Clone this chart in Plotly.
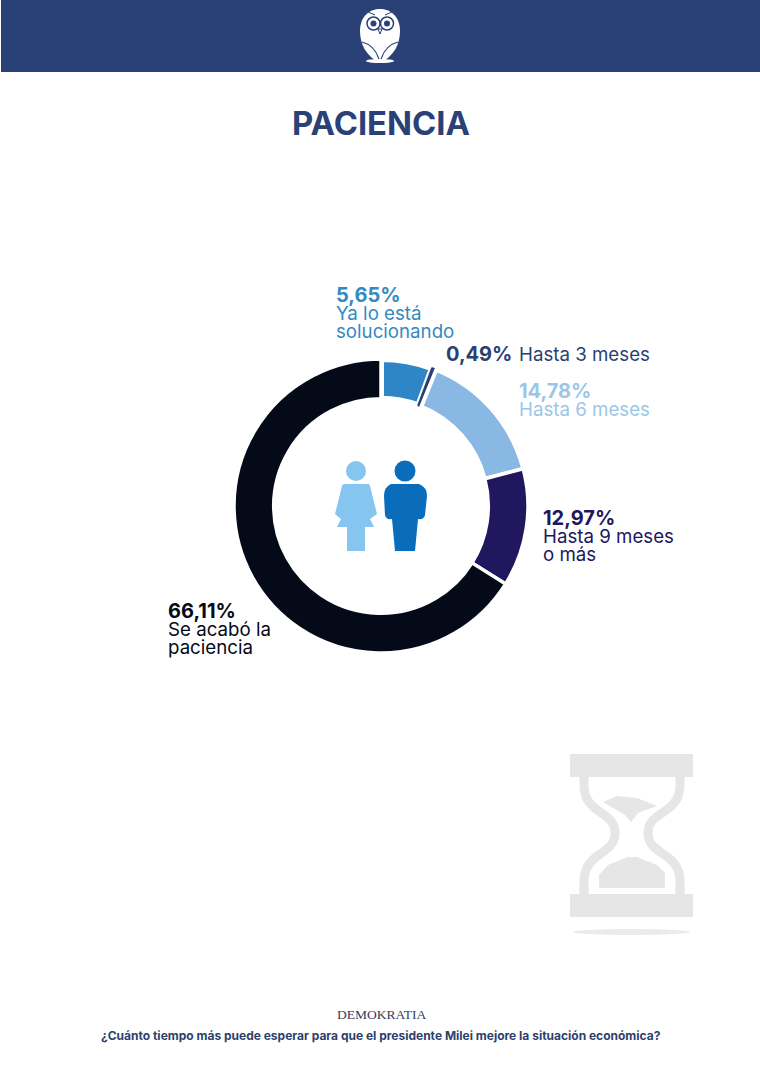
import plotly.graph_objects as go

categories = ["Ya lo está solucionando", "Hasta 3 meses", "Hasta 6 meses", "Hasta 9 meses o más", "Se acabó la paciencia"]
values = [5.65, 0.49, 14.78, 12.97, 66.11]
colors = ["#2E86C6", "#2C3F73", "#8AB8E4", "#21175F", "#050A18"]
text_colors = ["#348ABF", "#2C3F73", "#9CC6E8", "#21175F", "#050A18"]
slice_stroke_colors = ["white", "#2C3F73", "white", "white", "white"]
slice_stroke_widths = [6, 2, 4, 3.5, 3.5]
title = "PACIENCIA"
question = "¿Cuánto tiempo más puede esperar para que el presidente Milei mejore la situación económica?"
brand = "DEMOKRATIA"

W, H = 760, 1074
NAVY = "#2A4178"
GREY = "#E6E6E6"
FONT = "Inter"
BOLD = 20
REG = 18.7

cx, cy, R = 381, 506, 147

def pct(v):
    return f"{v:.2f}".replace(".", ",") + "%"

fig = go.Figure()
fig.add_trace(go.Pie(
    labels=categories, values=values, hole=0.73, sort=False, direction="clockwise", rotation=0,
    marker=dict(colors=colors, line=dict(color=slice_stroke_colors, width=slice_stroke_widths)),
    textinfo="none", hoverinfo="label+percent", showlegend=False,
    domain=dict(x=[(cx - R) / W, (cx + R) / W], y=[1 - (cy + R) / H, 1 - (cy - R) / H]),
))

def text(x, y, s, size, color, bold=False, anchor="left", font=FONT):
    fig.add_annotation(x=x, y=y, xref="x", yref="y", text=f"<b>{s}</b>" if bold else s, showarrow=False,
                       xanchor=anchor, yanchor="middle", align=anchor, xshift=-2 if anchor == "left" else 0,
                       font=dict(family=font, size=size, color=color))

# labels
text(336, 295, pct(values[0]), BOLD, text_colors[0], True)
text(336, 313, "Ya lo está", REG, text_colors[0])
text(336, 331, "solucionando", REG, text_colors[0])
text(446, 354, pct(values[1]), BOLD, text_colors[1], True)
text(519, 354, categories[1], REG, text_colors[1])
text(519, 391, pct(values[2]), BOLD, text_colors[2], True)
text(519, 409, categories[2], REG, text_colors[2])
text(543, 518, pct(values[3]), BOLD, text_colors[3], True)
text(543, 536, "Hasta 9 meses", REG, text_colors[3])
text(543, 554, "o más", REG, text_colors[3])
text(168, 611, pct(values[4]), BOLD, text_colors[4], True)
text(168, 629, "Se acabó la", REG, text_colors[4])
text(168, 647, "paciencia", REG, text_colors[4])

text(381, 123, title, 32.8, NAVY, True, "center")
text(381, 1014, brand, 13.5, "#33405F", False, "center", "Liberation Serif")
text(381, 1035, question, 12, "#2C3F6E", True, "center")

def path(d, fill=None, line=None, lw=0):
    fig.add_shape(type="path", path=d, xref="x", yref="y", layer="below",
                  fillcolor=fill or "rgba(0,0,0,0)",
                  line=dict(color=line or "rgba(0,0,0,0)", width=lw))

def ell(x, y, rx, ry, fill, line=None, lw=0):
    fig.add_shape(type="circle", x0=x - rx, x1=x + rx, y0=y - ry, y1=y + ry, xref="x", yref="y",
                  layer="below", fillcolor=fill, line=dict(color=line or "rgba(0,0,0,0)", width=lw))

def rect(x0, y0, x1, y1, fill):
    fig.add_shape(type="rect", x0=x0, x1=x1, y0=y0, y1=y1, xref="x", yref="y", layer="below",
                  fillcolor=fill, line=dict(width=0))

# header + owl
rect(1, 0, 760, 72, NAVY)
path("M360,31 C360,16 370,9 380,9 C390,9 400,16 400,31 C400,45 393,55 385,60 L375,60 C367,55 360,45 360,31 Z", "white")
ell(380, 61, 14, 2, "white")
for ex in (373.5, 387):
    ell(ex, 23.5, 6.5, 6.5, "white", NAVY, 1.5)
    ell(ex, 23.5, 3, 3, NAVY)
path("M378,29 L382,29 L380,34 Z", "white", NAVY, 1)
path("M362,42 C370,44 376,50 379,59", None, NAVY, 1.2)
path("M398,42 C390,44 384,50 381,59", None, NAVY, 1.2)
path("M368,12 L375,15 M392,12 L385,15", None, NAVY, 1)

# people
ell(356, 471, 10, 10, "#85C5EF")
path("M345,484 L369,484 Q369,484 370,486 L377,514 L370,519 L374,527 L365,527 L365,551 "
     "L347,551 L347,527 L337,527 L341,519 L335,514 L342,486 Q342,484 345,484 Z", "#85C5EF")
ell(405, 471, 10.5, 10.5, "#0A6DBB")
path("M391,484 L419,484 Q427,487 427,496 L425,515 Q424,520 418,519 L415,551 L395,551 L392,519 "
     "Q386,520 385,515 L384,496 Q384,487 391,484 Z", "#0A6DBB")

# hourglass
rect(570, 754, 693, 777, GREY)
rect(570, 894, 693, 917, GREY)
path("M584,777 L584,785 C584,815 615,810 615,833 C615,856 584,851 584,882 L584,894", None, GREY, 9)
path("M680,777 L680,785 C680,815 648,810 648,833 C648,856 680,851 680,882 L680,894", None, GREY, 9)
path("M603,802 L617,796 L637,798 L657,806 L638,813 L631,822 L625,815 Z", GREY)
path("M599,888 L599,875 L608,865 L628,857 L637,857 L657,865 L665,873 L665,888 Z", GREY)
ell(631.5, 932, 58.5, 3, "#EBEBEB")

fig.update_layout(
    width=W, height=H, margin=dict(l=0, r=0, t=0, b=0), paper_bgcolor="white", plot_bgcolor="rgba(0,0,0,0)",
    xaxis=dict(range=[0, W], visible=False, fixedrange=True, domain=[0, 1]),
    yaxis=dict(range=[H, 0], visible=False, fixedrange=True, domain=[0, 1]),
)
fig.write_html("out.html", config=dict(displayModeBar=False),
               post_script="document.body.style.margin='0';document.body.style.overflow='hidden';")
